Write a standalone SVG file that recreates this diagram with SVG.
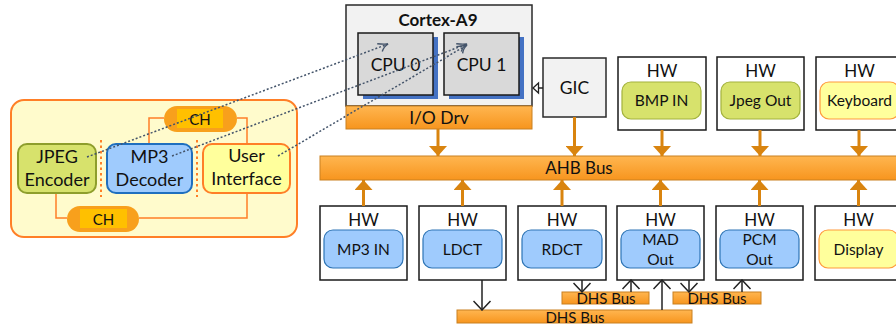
<svg xmlns="http://www.w3.org/2000/svg" width="896" height="327" viewBox="0 0 896 327">
<style>
text{font-family:Lato,"Open Sans","Liberation Sans",sans-serif;fill:#111;text-anchor:middle}
.box{fill:#fff;stroke:#1a1a1a;stroke-width:1.5}
.gray{fill:#f2f2f2;stroke:#2a2a2a;stroke-width:1.5}
.cpu{fill:#d9d9d9;stroke:#1a1a1a;stroke-width:1.5}
.shadow{fill:#4472c4}
.bar{fill:url(#og);stroke:#c98020;stroke-width:1}
.green{fill:#d7e26c;stroke:#a3b23c;stroke-width:1.2}
.blue{fill:#9fcbfd;stroke:#2e75b6;stroke-width:1.2}
.yel{fill:#ffff9c;stroke:#ff9a3c;stroke-width:1.2}
.hw{font-size:17px}
.lbl{font-size:15.5px}
.dhs{font-size:15px}
.big{font-size:18px}
.oarr{stroke:#d9840f;stroke-width:3;fill:none;marker-end:url(#ot)}
.barr{stroke:#222;stroke-width:1.5;fill:none;marker-end:url(#bv)}
.dot{stroke:#44546a;stroke-width:1.5;stroke-dasharray:2 2;fill:none;marker-end:url(#dv)}
.oline{stroke:#ff7f27;stroke-width:1.5;fill:none}
.sep{stroke:#ff7f27;stroke-width:2;stroke-dasharray:2.5 3}
.pill{fill:#f8a01c}
.pin{fill:#ffc000}
</style>
<defs>
<linearGradient id="og" x1="0" y1="0" x2="0" y2="1">
<stop offset="0" stop-color="#ffb650"/>
<stop offset="1" stop-color="#f7951e"/>
</linearGradient>
<marker id="ot" markerUnits="userSpaceOnUse" viewBox="0 0 10 18" markerWidth="10" markerHeight="18" refX="10" refY="9" orient="auto">
<path d="M0,0 L10,9 L0,18 Z" fill="#d9840f"/>
</marker>
<marker id="bv" markerUnits="userSpaceOnUse" viewBox="-1 -1 11 19" markerWidth="11" markerHeight="19" refX="9" refY="8.5" orient="auto">
<path d="M0,0 L9,8.5 L0,17" fill="none" stroke="#222" stroke-width="1.5"/>
</marker>
<marker id="dv" markerUnits="userSpaceOnUse" viewBox="-1 -1 12 12" markerWidth="12" markerHeight="12" refX="10" refY="5" orient="auto">
<path d="M0,1 Q5,3.5 10,5 Q5,6 2,10" fill="none" stroke="#44546a" stroke-width="1.4"/>
</marker>
</defs>

<g id="app-panel">
<rect x="11" y="100" width="286" height="137" rx="13" fill="#fffbcc" stroke="#ff7f27" stroke-width="2"/>
<line class="sep" x1="101" y1="140" x2="101" y2="197"/>
<line class="sep" x1="197" y1="140" x2="197" y2="197"/>
</g>

<g id="ch-links">
<polyline class="oline" points="149,144 149,118 164,118"/>
<polyline class="oline" points="237,118 247,118 247,144"/>
<polyline class="oline" points="56,193 56,218 67,218"/>
<polyline class="oline" points="139,218 247,218 247,193"/>
</g>

<g id="jpeg-encoder">
<rect class="green" x="18" y="144" width="78" height="49" rx="9" style="stroke:#8e9e2c;stroke-width:2"/>
<text class="big" x="57" y="163">JPEG</text>
<text class="big" x="57" y="186">Encoder</text>
</g>
<g id="mp3-decoder">
<rect class="blue" x="107" y="144" width="85" height="49" rx="9" style="stroke:#1f6fbf;stroke-width:2"/>
<text class="big" x="149.5" y="163">MP3</text>
<text class="big" x="149.5" y="186">Decoder</text>
</g>
<g id="user-interface">
<rect class="yel" x="203" y="144" width="87" height="49" rx="9" style="stroke:#ff7f27;stroke-width:2"/>
<text class="big" x="246.5" y="162">User</text>
<text class="big" x="246.5" y="185">Interface</text>
</g>
<g id="ch-top">
<rect class="pill" x="164" y="106" width="73" height="26" rx="13"/>
<rect class="pin" x="177" y="109" width="46" height="19"/>
<text x="200" y="124.5" font-size="15">CH</text>
</g>
<g id="ch-bottom">
<rect class="pill" x="67" y="206" width="72" height="26" rx="13"/>
<rect class="pin" x="80" y="209" width="47" height="19"/>
<text x="103.5" y="224.5" font-size="15">CH</text>
</g>

<g id="cortex-a9">
<rect class="gray" x="346" y="5" width="186" height="101"/>
<text x="438" y="26" font-size="17" font-weight="bold">Cortex-A9</text>
</g>
<g id="cpu0">
<rect class="shadow" x="363" y="37" width="75" height="62"/>
<rect class="cpu" x="358" y="33" width="75" height="62"/>
<text x="395.5" y="71" font-size="17.5">CPU 0</text>
</g>
<g id="cpu1">
<rect class="shadow" x="449" y="37" width="75" height="62"/>
<rect class="cpu" x="444" y="33" width="75" height="62"/>
<text x="481.5" y="71" font-size="17.5">CPU 1</text>
</g>
<g id="io-drv">
<rect class="bar" x="346" y="106" width="186" height="23"/>
<text x="439" y="124" font-size="17.5">I/O Drv</text>
</g>
<g id="gic">
<rect class="gray" x="543" y="58" width="63" height="59"/>
<text x="574.5" y="94" font-size="17.5">GIC</text>
</g>

<g id="hw-bmp-in">
<rect class="box" x="618" y="57" width="88" height="73"/>
<text class="hw" x="662" y="77">HW</text>
<rect class="green" x="622" y="82" width="79" height="37" rx="9"/>
<text class="lbl" x="661.5" y="106">BMP IN</text>
</g>
<g id="hw-jpeg-out">
<rect class="box" x="717" y="57" width="87" height="73"/>
<text class="hw" x="760.5" y="77">HW</text>
<rect class="green" x="721" y="82" width="79" height="37" rx="9"/>
<text class="lbl" x="760.5" y="106">Jpeg Out</text>
</g>
<g id="hw-keyboard">
<rect class="box" x="816" y="57" width="87" height="73"/>
<text class="hw" x="859.5" y="77">HW</text>
<rect class="yel" x="820" y="82" width="79" height="37" rx="9"/>
<text class="lbl" x="859.5" y="106">Keyboard</text>
</g>

<g id="ahb-bus">
<rect class="bar" x="320" y="156" width="590" height="24"/>
<text x="579" y="174" font-size="17">AHB Bus</text>
</g>

<g id="hw-mp3-in">
<rect class="box" x="320" y="206" width="87" height="74"/>
<text class="hw" x="363.5" y="226">HW</text>
<rect class="blue" x="324" y="230" width="79" height="38" rx="9"/>
<text class="lbl" x="363.5" y="254.5">MP3 IN</text>
</g>
<g id="hw-ldct">
<rect class="box" x="419" y="206" width="87" height="74"/>
<text class="hw" x="462.5" y="226">HW</text>
<rect class="blue" x="423" y="230" width="79" height="38" rx="9"/>
<text class="lbl" x="462.5" y="254.5">LDCT</text>
</g>
<g id="hw-rdct">
<rect class="box" x="518" y="206" width="88" height="74"/>
<text class="hw" x="562" y="226">HW</text>
<rect class="blue" x="522" y="230" width="80" height="38" rx="9"/>
<text class="lbl" x="562" y="254.5">RDCT</text>
</g>
<g id="hw-mad-out">
<rect class="box" x="617" y="206" width="87" height="74"/>
<text class="hw" x="660.5" y="226">HW</text>
<rect class="blue" x="621" y="230" width="79" height="38" rx="9"/>
<text class="lbl" x="660.5" y="245">MAD</text>
<text class="lbl" x="660.5" y="265">Out</text>
</g>
<g id="hw-pcm-out">
<rect class="box" x="716" y="206" width="87" height="74"/>
<text class="hw" x="759.5" y="226">HW</text>
<rect class="blue" x="720" y="230" width="79" height="38" rx="9"/>
<text class="lbl" x="759.5" y="245">PCM</text>
<text class="lbl" x="759.5" y="265">Out</text>
</g>
<g id="hw-display">
<rect class="box" x="815" y="206" width="87" height="74"/>
<text class="hw" x="858.5" y="226">HW</text>
<rect class="yel" x="819" y="230" width="79" height="38" rx="9"/>
<text class="lbl" x="858.5" y="254.5">Display</text>
</g>

<g id="dhs-bus-main">
<rect class="bar" x="457" y="310" width="235" height="13"/>
<text class="dhs" x="575" y="322.5">DHS Bus</text>
</g>
<g id="dhs-bus-1">
<rect class="bar" x="562" y="292" width="87" height="12"/>
<text class="dhs" x="606" y="304">DHS Bus</text>
</g>
<g id="dhs-bus-2">
<rect class="bar" x="673" y="292" width="88" height="12"/>
<text class="dhs" x="717" y="304">DHS Bus</text>
</g>

<g id="connectors">
<line class="oarr" x1="438" y1="129" x2="438" y2="156"/>
<line class="oarr" x1="574.5" y1="117" x2="574.5" y2="156"/>
<line class="oarr" x1="662" y1="130" x2="662" y2="156"/>
<line class="oarr" x1="760" y1="130" x2="760" y2="156"/>
<line class="oarr" x1="859" y1="130" x2="859" y2="156"/>
<line class="oarr" x1="363.5" y1="206" x2="363.5" y2="180"/>
<line class="oarr" x1="462.5" y1="206" x2="462.5" y2="180"/>
<line class="oarr" x1="562" y1="206" x2="562" y2="180"/>
<line class="oarr" x1="660.5" y1="206" x2="660.5" y2="180"/>
<line class="oarr" x1="759.5" y1="206" x2="759.5" y2="180"/>
<line class="oarr" x1="858.5" y1="206" x2="858.5" y2="180"/>
<line x1="543" y1="88" x2="538" y2="88" stroke="#222" stroke-width="1.5"/>
<polygon points="533,88 538.5,83 538.5,93" fill="#fff" stroke="#222" stroke-width="1.3"/>
<line class="barr" x1="482" y1="280" x2="482" y2="310"/>
<line class="barr" x1="582" y1="280" x2="582" y2="292"/>
<line class="barr" x1="631" y1="292" x2="631" y2="280"/>
<line class="barr" x1="662" y1="310" x2="662" y2="280"/>
<line class="barr" x1="689" y1="280" x2="689" y2="292"/>
<line class="barr" x1="742" y1="292" x2="742" y2="280"/>
<line class="dot" x1="87" y1="157" x2="388" y2="44"/>
<line class="dot" x1="172" y1="156" x2="467" y2="44"/>
<line class="dot" x1="278" y1="156" x2="467" y2="45"/>
</g>
</svg>
